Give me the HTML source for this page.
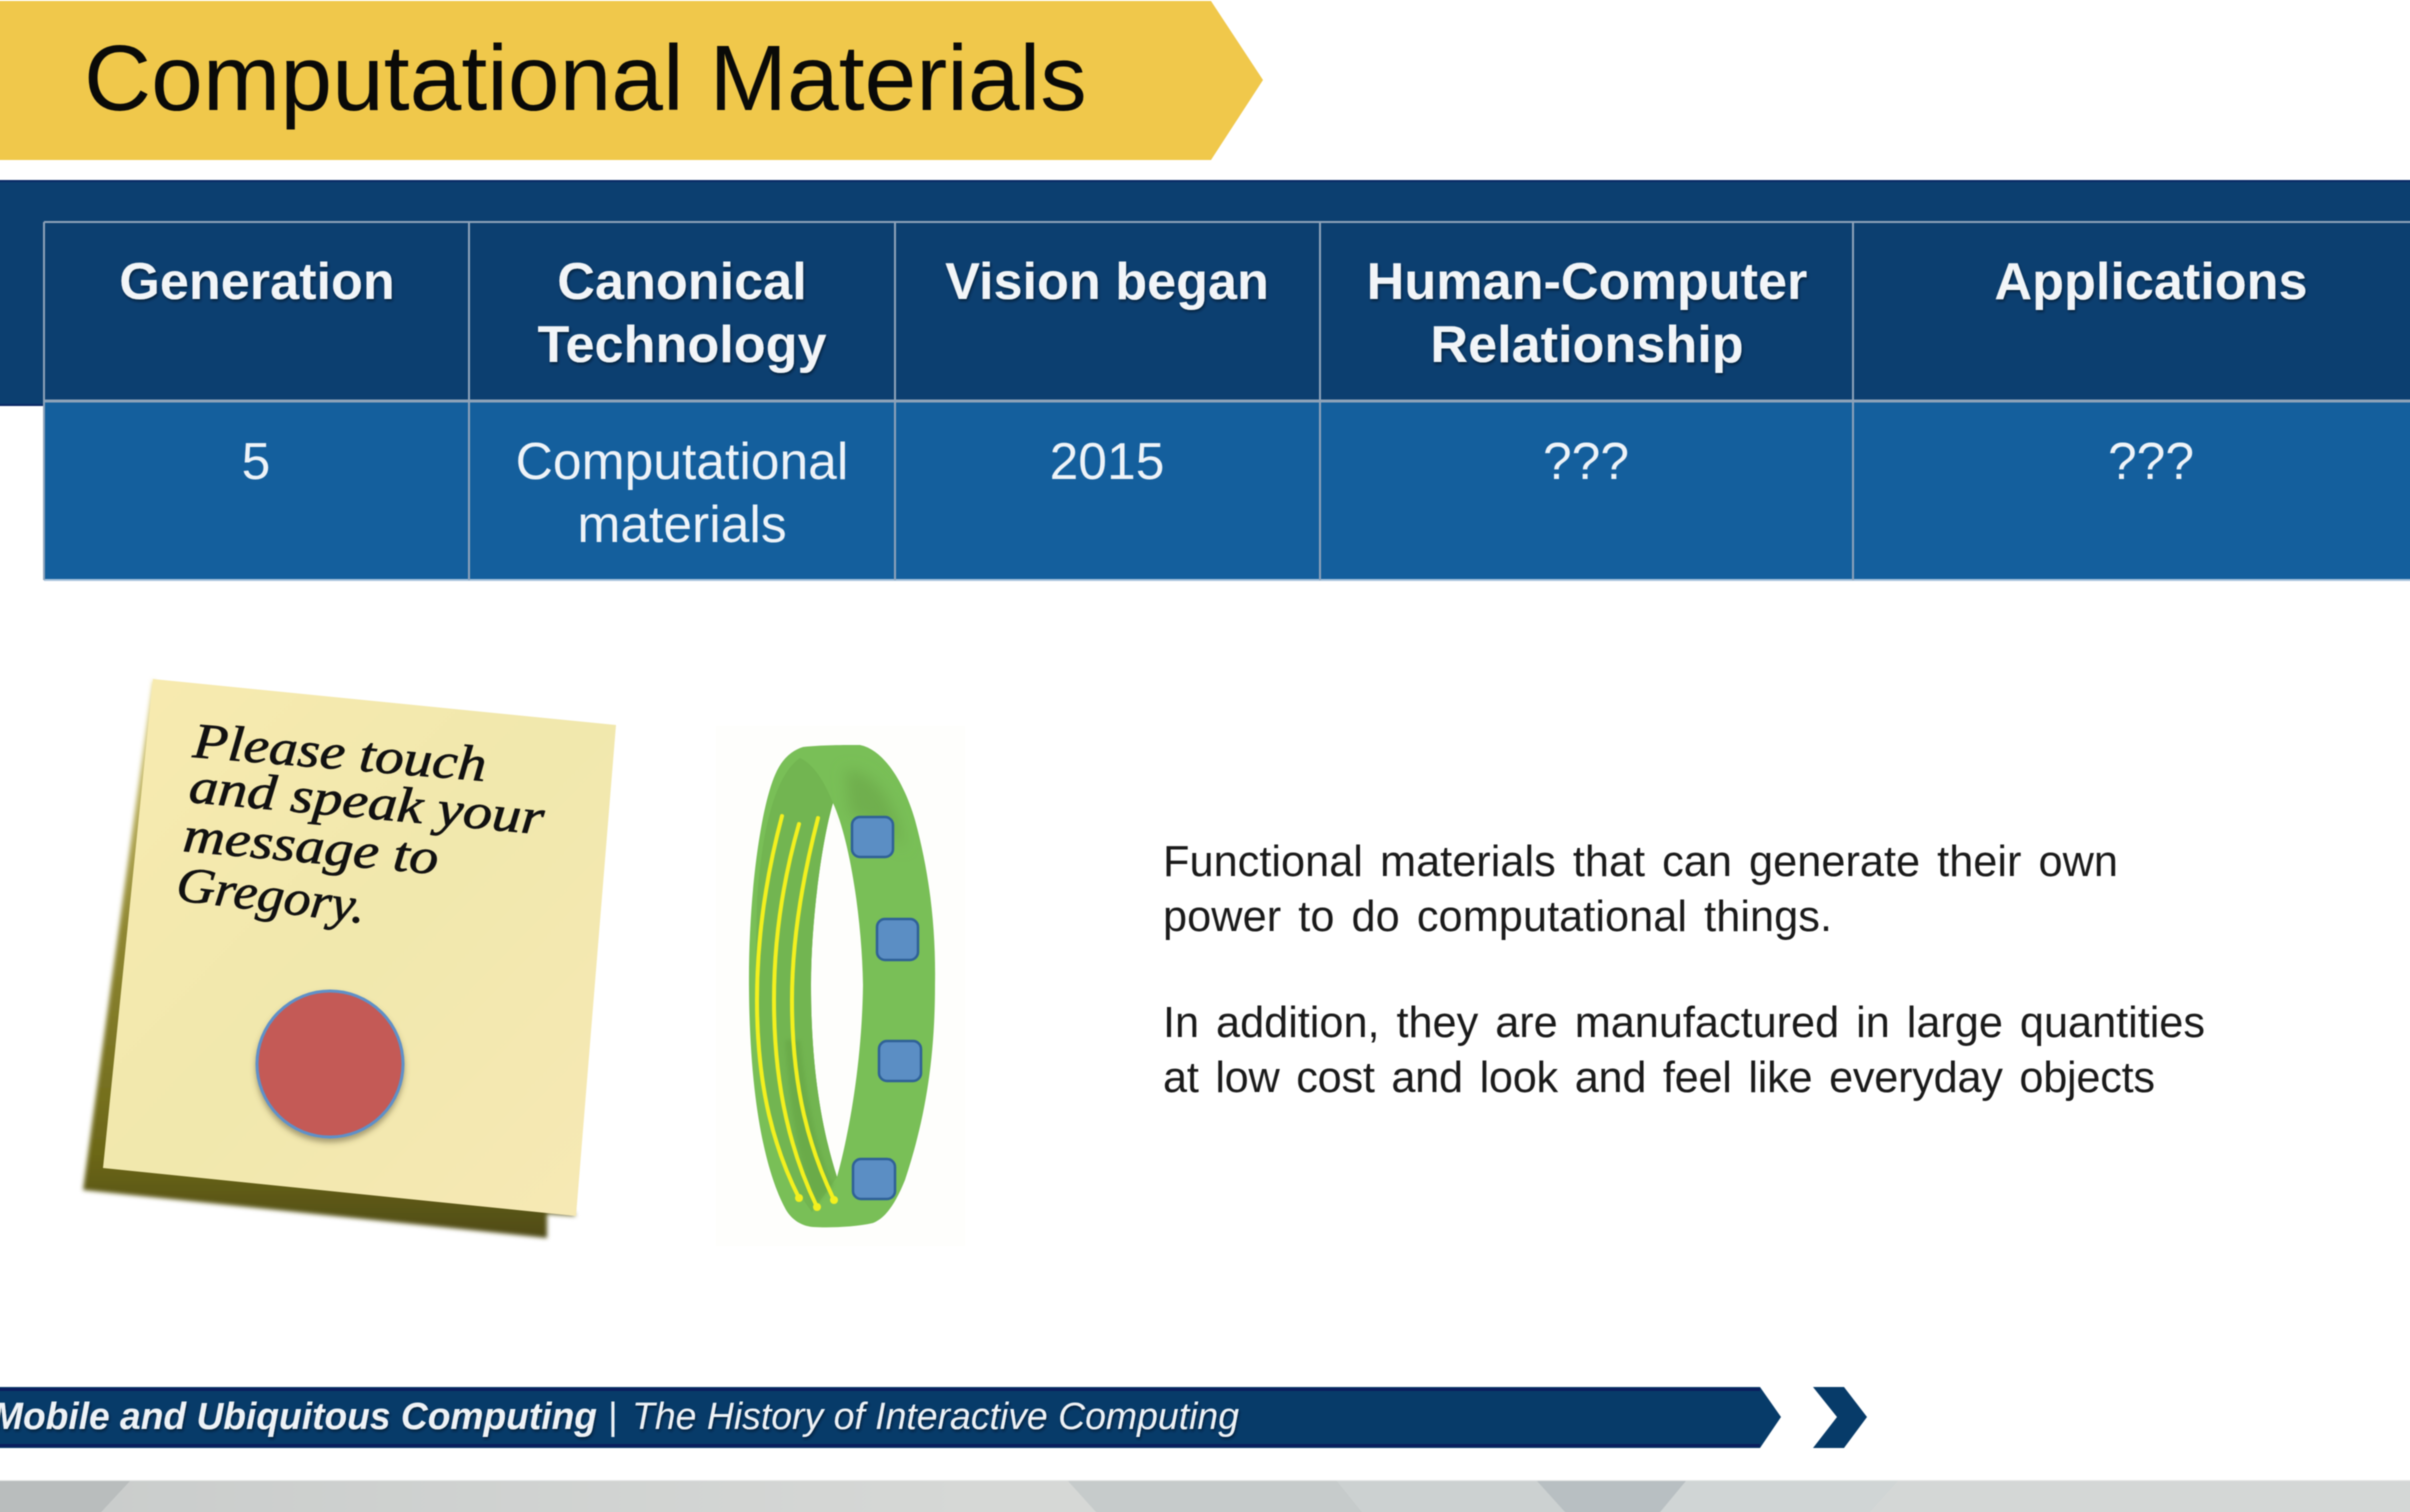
<!DOCTYPE html>
<html lang="en">
<head>
<meta charset="utf-8">
<title>Computational Materials</title>
<style>
html,body{margin:0;padding:0;background:#fff;width:2410px;height:1512px;overflow:hidden}
#stage{position:absolute;left:0;top:0;width:2410px;height:1512px;overflow:hidden}
svg{display:block;position:absolute;left:-10px;top:-10px;filter:blur(.6px)}
text{font-family:"Liberation Sans",sans-serif}
.hd{font-size:52.2px;font-weight:700;fill:#f2f5f8;text-anchor:middle;filter:url(#textShadow)}
.bd{font-size:51.6px;fill:#eef3f8;text-anchor:middle}
.para{font-size:43.3px;fill:#1a1a1a;word-spacing:5px}
.hand{font-family:"Liberation Serif",serif;font-style:italic;font-size:50px;fill:#111;stroke:#111;stroke-width:.7px}
.grid{stroke:#8ea3b9;stroke-width:2}
</style>
</head>
<body>
<div id="stage">
<svg width="2430" height="1532" viewBox="-10 -10 2430 1532" xmlns="http://www.w3.org/2000/svg">
<defs>
<filter id="textShadow" x="-10%" y="-20%" width="120%" height="150%"><feDropShadow dx="1" dy="2" stdDeviation="1.2" flood-color="#021a33" flood-opacity=".8"/></filter>
<filter id="soft" x="-10%" y="-10%" width="120%" height="120%"><feGaussianBlur stdDeviation="2"/></filter>
<filter id="softer" x="-30%" y="-30%" width="160%" height="160%"><feGaussianBlur stdDeviation="7"/></filter>
<filter id="circleShadow" x="-20%" y="-20%" width="140%" height="140%"><feDropShadow dx="0" dy="4" stdDeviation="3" flood-color="#5a5030" flood-opacity=".5"/></filter>
<linearGradient id="noteFill" x1="0" y1="0" x2="1" y2="1"><stop offset="0" stop-color="#f8ebb0"/><stop offset=".5" stop-color="#f1e8ad"/><stop offset="1" stop-color="#f7e9b5"/></linearGradient>
<linearGradient id="shadowFill" x1="0" y1="0" x2="0" y2="1"><stop offset="0" stop-color="#e4d78c"/><stop offset=".45" stop-color="#8f8732"/><stop offset=".85" stop-color="#6c6718"/><stop offset="1" stop-color="#4f4b12"/></linearGradient>
<linearGradient id="stripFill" x1="0" y1="0" x2="1" y2="0"><stop offset="0" stop-color="#c9cccb"/><stop offset=".4" stop-color="#d6d8d6"/><stop offset="1" stop-color="#d4d7d6"/></linearGradient>
</defs>

<rect x="-10" y="-10" width="2430" height="1532" fill="#fff"/>

<!-- Title banner -->
<polygon points="-10,1 1211,1 1263,80 1211,160 -10,160" fill="#f0c84b"/>
<text x="84" y="110" font-size="93" fill="#0a0a08">Computational Materials</text>

<!-- Table -->
<rect x="-10" y="180" width="2430" height="226" fill="#0c3f70"/>
<rect x="-10" y="180" width="2430" height="2" fill="#0a2a66"/>
<rect x="-10" y="404" width="54" height="2" fill="#0a2a66"/>
<rect x="44" y="401" width="2376" height="179" fill="#145f9d"/>
<g>
<line class="grid" x1="44" y1="222" x2="2420" y2="222"/>
<line class="grid" x1="44" y1="401" x2="2420" y2="401" style="stroke-width:3"/>
<line x1="44" y1="580" x2="2420" y2="580" stroke="#a9c4dc" stroke-width="2"/>
<line class="grid" x1="44" y1="222" x2="44" y2="580"/>
<line class="grid" x1="469" y1="222" x2="469" y2="580"/>
<line class="grid" x1="895" y1="222" x2="895" y2="580"/>
<line class="grid" x1="1320" y1="222" x2="1320" y2="580"/>
<line class="grid" x1="1853" y1="222" x2="1853" y2="580"/>
</g>
<text class="hd" x="257" y="299">Generation</text>
<text class="hd" x="682" y="299">Canonical</text>
<text class="hd" x="682" y="362">Technology</text>
<text class="hd" x="1107" y="299">Vision began</text>
<text class="hd" x="1587" y="299">Human-Computer</text>
<text class="hd" x="1587" y="362">Relationship</text>
<text class="hd" x="2151" y="299">Applications</text>
<text class="bd" x="256" y="479">5</text>
<text class="bd" x="682" y="479">Computational</text>
<text class="bd" x="682" y="542">materials</text>
<text class="bd" x="1107" y="479">2015</text>
<text class="bd" x="1586" y="479">???</text>
<text class="bd" x="2151" y="479">???</text>

<!-- Sticky note -->
<g>
<polygon points="153,679 83,1190 547,1238 547,1214 576,1216" fill="url(#shadowFill)" filter="url(#soft)"/>
<polygon points="153,679 616,725 576,1216 103,1168" fill="url(#noteFill)"/>
<text class="hand" x="192" y="757" transform="rotate(4.7 192 757)" textLength="294" lengthAdjust="spacingAndGlyphs">Please touch</text>
<text class="hand" x="188" y="802" transform="rotate(5.2 188 802)" textLength="356" lengthAdjust="spacingAndGlyphs">and speak your</text>
<text class="hand" x="182" y="851" transform="rotate(5.2 182 851)" textLength="256" lengthAdjust="spacingAndGlyphs">message to</text>
<text class="hand" x="175" y="900" transform="rotate(7 175 900)" textLength="190" lengthAdjust="spacingAndGlyphs">Gregory.</text>
<ellipse cx="330" cy="1064" rx="73" ry="73" fill="#c45a56" stroke="#5f90c8" stroke-width="3" filter="url(#circleShadow)"/>
</g>

<!-- Bracelet -->
<g>
<rect x="716" y="726" width="249" height="520" fill="#fefefc"/>
<path fill-rule="evenodd" fill="#79bf57" d="M803 747 C820 745 845 745 860 745 C885 750 905 785 915 820 C930 875 936 930 935 985 C935 1060 925 1120 905 1180 C895 1205 885 1218 873 1223 C855 1227 830 1228 813 1227 C800 1226 790 1218 785 1208 C765 1170 750 1100 749 990 C748 900 760 810 775 775 C782 758 793 750 803 747 Z M833 803 C850 840 862 920 863 985 C862 1060 850 1130 837 1177 C822 1130 811 1070 811 985 C811 920 822 840 833 803 Z"/>
<path d="M845 770 C875 770 895 800 905 850 C890 830 870 820 850 815 Z" fill="#70af4e" filter="url(#softer)"/>
<path d="M757 900 C762 830 775 775 800 758 C815 765 826 785 833 803 C822 840 811 920 811 985 C811 1070 822 1130 837 1177 L812 1212 C780 1170 755 1090 755 990 Z" fill="#72b551"/>
<path d="M800 1040 C808 1110 820 1160 833 1185 L815 1205 C800 1170 790 1110 785 1040 Z" fill="#6aab4a" filter="url(#soft)"/>
<g fill="none" stroke="#f3f01e" stroke-width="4" stroke-linecap="round">
<path d="M782 816 C765 880 757 940 757 1000 C757 1090 775 1150 799 1198"/>
<path d="M799 824 C783 880 774 940 774 1000 C774 1090 792 1155 817 1207"/>
<path d="M818 818 C802 880 792 940 792 1000 C792 1090 810 1150 834 1200"/>
</g>
<circle cx="799" cy="1198" r="4" fill="#f3f01e"/>
<circle cx="817" cy="1207" r="4" fill="#f3f01e"/>
<circle cx="834" cy="1200" r="4" fill="#f3f01e"/>
<g fill="#5b8ec4" stroke="#2f6197" stroke-width="2.5">
<rect x="852" y="817" width="41" height="40" rx="8"/>
<rect x="877" y="919" width="41" height="41" rx="8"/>
<rect x="879" y="1041" width="42" height="40" rx="8"/>
<rect x="853" y="1159" width="42" height="40" rx="8"/>
</g>
</g>

<!-- Description -->
<g>
<text class="para" x="1163" y="876" textLength="955">Functional materials that can generate their own</text>
<text class="para" x="1163" y="931" textLength="669">power to do computational things.</text>
<text class="para" x="1163" y="1037" textLength="1042">In addition, they are manufactured in large quantities</text>
<text class="para" x="1163" y="1092" textLength="992">at low cost and look and feel like everyday objects</text>
</g>

<!-- Footer -->
<g>
<polygon points="-10,1387 1760,1387 1781,1417 1760,1448 -10,1448" fill="#073b69"/>
<rect x="-10" y="1388" width="1770" height="3" fill="#0a1f5e"/>
<rect x="-10" y="1444" width="1770" height="3" fill="#0a1f5e"/>
<polygon points="1813,1387 1844,1387 1867,1417 1844,1448 1813,1448 1837,1417" fill="#073b69"/>
<text x="-8" y="1429" font-size="38" font-weight="700" font-style="italic" fill="#eef2f6" textLength="605" lengthAdjust="spacingAndGlyphs" filter="url(#textShadow)">Mobile and Ubiquitous Computing</text>
<text x="608" y="1429" font-size="38" fill="#eef2f6">|</text>
<text x="632" y="1429" font-size="38" font-style="italic" fill="#eef2f6" textLength="607" lengthAdjust="spacingAndGlyphs" filter="url(#textShadow)">The History of Interactive Computing</text>
</g>

<!-- Bottom decorative strip -->
<g>
<rect x="-10" y="1480" width="2430" height="42" fill="url(#stripFill)"/>
<rect x="-10" y="1480" width="2430" height="1" fill="#e6e8e7"/>
<polygon points="-10,1481 130,1481 92,1522 -10,1522" fill="#b9bdbd"/>
<polygon points="1068,1481 1337,1481 1370,1522 1105,1522" fill="#c6cbcb"/>
<polygon points="1337,1481 1537,1481 1574,1522 1370,1522" fill="#ccd1d1"/>
<polygon points="1537,1481 1686,1481 1652,1522 1574,1522" fill="#b8bfc2"/>
<polygon points="1686,1481 1898,1481 1861,1522 1652,1522" fill="#d0d5d5"/>
</g>
</svg>
</div>
</body>
</html>
